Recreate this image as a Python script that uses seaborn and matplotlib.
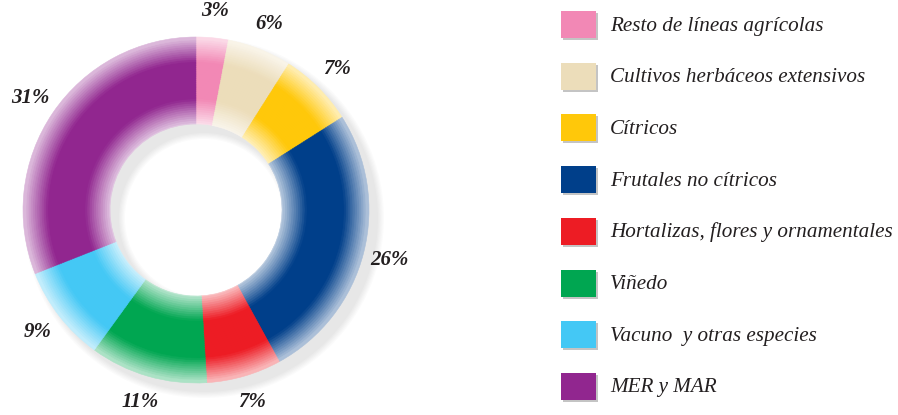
import numpy as np
import matplotlib
matplotlib.use("Agg")
import matplotlib.pyplot as plt
from matplotlib.patches import Rectangle
import seaborn as sns

# --- dati ---
categorias = ["Resto de líneas agrícolas", "Cultivos herbáceos extensivos", "Cítricos",
              "Frutales no cítricos", "Hortalizas, flores y ornamentales", "Viñedo",
              "Vacuno  y otras especies", "MER y MAR"]
porcentajes = [3, 6, 7, 26, 7, 11, 9, 31]
colores_hex = ["#F288B5", "#ECDDBA", "#FFC80A", "#003F8A",
               "#ED1C24", "#00A651", "#44C8F5", "#91268F"]

sns.set_theme(style="white")
plt.rcParams["font.family"] = ["Liberation Serif", "DejaVu Serif"]

W, H = 898, 415
CX, CY = 196, 210          # centro del donut in pixel (y dall'alto)
R_OUT, R_IN = 173, 86
N_ANELLI = 40

fig = plt.figure(figsize=(W / 100, H / 100), dpi=100)
ax = fig.add_axes([0, 0, 1, 1])

paleta = np.array(sns.color_palette(colores_hex))


def sfumatura(t):
    """Quanto schiarire verso il bianco (t = 0 bordo interno, 1 bordo esterno)."""
    interno = np.clip((0.3 - t) / 0.3, 0, 1) * 0.75
    esterno = np.clip((t - 0.72) / 0.28, 0, 1) * 0.7
    return max(interno, esterno)


# ombra sfumata spostata in basso a destra
for i in range(6):
    ax.pie([1], colors=["black"], radius=R_OUT + 1 + i * 1.2, center=(8, -8),
           wedgeprops=dict(width=R_OUT - R_IN + 2 + i * 2.4, linewidth=0, alpha=0.016))

# anello principale costruito con tanti sotto-anelli per il gradiente radiale
dr = (R_OUT - R_IN) / N_ANELLI
for k in range(N_ANELLI):
    t = (k + 0.5) / N_ANELLI
    f = sfumatura(t)
    cols = paleta * (1 - f) + f
    ultimo = k == N_ANELLI - 1
    res = ax.pie(porcentajes, colors=cols, radius=R_IN + (k + 1) * dr,
                 startangle=90, counterclock=False,
                 wedgeprops=dict(width=dr * 1.4 if k else dr, linewidth=0),
                 autopct=(lambda p: f"{p:.0f}%") if ultimo else None,
                 pctdistance=1.155,
                 textprops=dict(fontsize=15, fontweight="bold", fontstyle="italic",
                                color="#231F20"))
    for w in res[0]:
        w.set_edgecolor(w.get_facecolor())
        w.set_linewidth(0.4)

ax.set_aspect("equal", adjustable="datalim")
ax.set_xlim(-CX, W - CX)
ax.set_ylim(-(H - CY), CY)
ax.axis("off")

# --- legenda a destra ---
for i, (cat, col) in enumerate(zip(categorias, colores_hex)):
    yc = 24.5 + i * 51.7
    fig.add_artist(Rectangle((563 / W, 1 - (yc + 15.5) / H), 35 / W, 27 / H,
                             transform=fig.transFigure, color="#C4C4C4", lw=0))
    fig.add_artist(Rectangle((561 / W, 1 - (yc + 13.5) / H), 35 / W, 27 / H,
                             transform=fig.transFigure, color=col, lw=0))
    fig.text(610 / W, 1 - (yc + 6) / H, cat, fontsize=15.2, fontstyle="italic",
             color="#231F20", va="baseline", ha="left")

fig.savefig("out.png", dpi=100, facecolor="white")
